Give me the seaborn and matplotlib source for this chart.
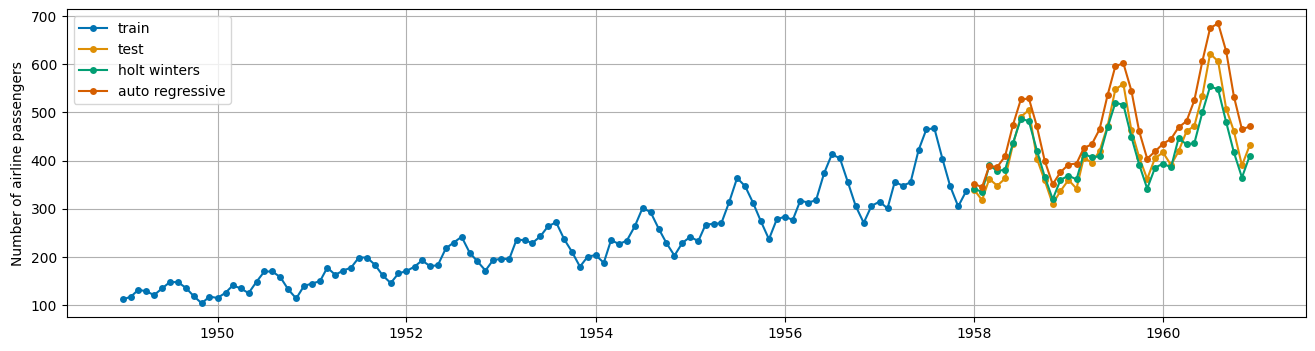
import matplotlib
matplotlib.use("Agg")
import matplotlib.pyplot as plt
import seaborn as sns
import pandas as pd
import numpy as np

train_values = [
    112, 118, 132, 129, 121, 135, 148, 148, 136, 119, 104, 118,
    115, 126, 141, 135, 125, 149, 170, 170, 158, 133, 114, 140,
    145, 150, 178, 163, 172, 178, 199, 199, 184, 162, 146, 166,
    171, 180, 193, 181, 183, 218, 230, 242, 209, 191, 172, 194,
    196, 196, 236, 235, 229, 243, 264, 272, 237, 211, 180, 201,
    204, 188, 235, 227, 234, 264, 302, 293, 259, 229, 203, 229,
    242, 233, 267, 269, 270, 315, 364, 347, 312, 274, 237, 278,
    284, 277, 317, 313, 318, 374, 413, 405, 355, 306, 271, 306,
    315, 301, 356, 348, 355, 422, 465, 467, 404, 347, 305, 336,
]
test_values = [
    340, 318, 362, 348, 363, 435, 491, 505, 404, 359, 310, 337,
    360, 342, 406, 396, 420, 472, 548, 559, 463, 407, 362, 405,
    417, 391, 419, 461, 472, 535, 622, 606, 508, 461, 390, 432,
]
holt_winters = [
    342, 335, 390, 379, 381, 437, 487, 482, 421, 367, 320, 360,
    369, 361, 414, 407, 409, 469, 520, 516, 449, 392, 342, 385,
    394, 386, 446, 434, 436, 500, 554, 548, 480, 417, 365, 410,
]
auto_regressive = [
    352, 345, 389, 387, 409, 475, 527, 529, 471, 400, 351, 376,
    392, 394, 426, 434, 465, 536, 596, 602, 545, 461, 404, 419,
    435, 445, 469, 482, 525, 606, 675, 685, 627, 533, 465, 471,
]
series_labels = ["train", "test", "holt winters", "auto regressive"]

train_dates = pd.date_range("1949-01-01", periods=len(train_values), freq="MS")
test_dates = pd.date_range("1958-01-01", periods=len(test_values), freq="MS")

palette = sns.color_palette("colorblind")

fig, ax = plt.subplots(figsize=(13.15, 3.51), dpi=100)
series = [
    (train_dates, train_values),
    (test_dates, test_values),
    (test_dates, holt_winters),
    (test_dates, auto_regressive),
]
for (d, v), lab, col in zip(series, series_labels, palette):
    sns.lineplot(x=d, y=v, ax=ax, label=lab, color=col, marker="o",
                 markersize=5, markeredgewidth=0, linewidth=1.5)

ax.set_ylabel("Number of airline passengers")
ax.set_xlabel("")
ax.grid(True)
ax.legend(loc="upper left")
fig.subplots_adjust(left=0.0507, right=0.9932, top=0.9735, bottom=0.096)
fig.savefig("out.png", dpi=100)
